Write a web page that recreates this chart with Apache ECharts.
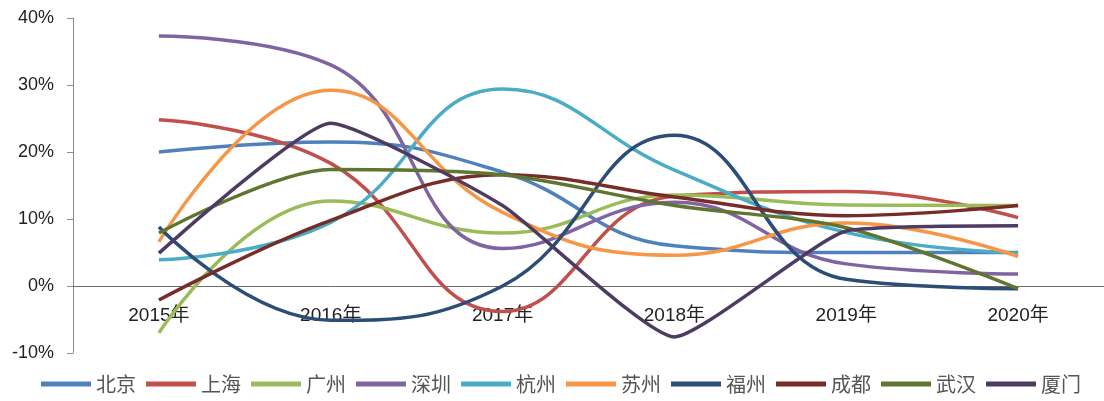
<!DOCTYPE html>
<html><head><meta charset="utf-8">
<script src="https://cdn.jsdelivr.net/npm/echarts@6/dist/echarts.min.js"></script>
<style>html,body{margin:0;padding:0;background:#fff}#c{width:1104px;height:401px}</style>
</head><body><div id="c"></div>
<script>
const categories = ['2015年','2016年','2017年','2018年','2019年','2020年'];
const cityNames = ['北京','上海','广州','深圳','杭州','苏州','福州','成都','武汉','厦门'];
const beijing  = [20.0, 21.5, 17.0, 6.0, 5.0, 5.0];
const shanghai = [24.8, 18.3, -3.8, 13.4, 14.1, 10.2];
const guangzhou= [-7.0, 12.7, 7.9, 13.6, 12.1, 12.0];
const shenzhen = [37.3, 33.0, 5.6, 12.5, 3.3, 1.8];
const hangzhou = [3.9, 9.5, 29.4, 17.3, 8.0, 4.9];
const suzhou   = [6.6, 29.2, 11.0, 4.6, 9.4, 4.4];
const fuzhou   = [8.8, -5.1, 0.0, 22.5, 1.0, -0.4];
const chengdu  = [-2.1, 9.8, 16.6, 13.3, 10.5, 12.0];
const wuhan    = [7.9, 17.4, 16.6, 12.0, 8.7, -0.4];
const xiamen   = [4.9, 24.3, 12.0, -7.6, 8.2, 9.0];
const yTicks = [-10, 0, 10, 20, 30, 40];
const seriesData = [beijing, shanghai, guangzhou, shenzhen, hangzhou, suzhou, fuzhou, chengdu, wuhan, xiamen];
const smoothness = [0.45, 0.45, 0.45, 0.45, 0.45, 0.45, 0.45, 0.4, 0.3, 0.15];
const colors = ['#4F81BD','#C0504D','#9BBB59','#8064A2','#4BACC6','#F79646','#2C4D75','#772C2A','#5F7530','#4D3B62'];
const FONT = 'Liberation Sans, Noto Sans CJK SC, sans-serif';
const chart = echarts.init(document.getElementById('c'));
chart.setOption({
  animation: false,
  color: colors,
  grid: {left: 73, right: -11, top: 18, bottom: 48, containLabel: false},
  xAxis: {
    type: 'category', data: categories, boundaryGap: true,
    axisLine: {onZero: true, lineStyle: {color: '#6b6b6b', width: 1}},
    axisTick: {show: false},
    axisLabel: {color: '#222', fontSize: 19, fontFamily: FONT, margin: -47},
    splitLine: {show: false}
  },
  yAxis: {
    type: 'value', min: yTicks[0], max: yTicks[yTicks.length-1], interval: 10,
    axisLine: {show: true, lineStyle: {color: '#8c8c8c', width: 1}},
    axisTick: {show: true, length: 6, lineStyle: {color: '#8c8c8c'}},
    axisLabel: {formatter: '{value}%', color: '#222', fontSize: 18, fontFamily: FONT, margin: 19},
    splitLine: {show: false}
  },
  legend: {
    left: 36, bottom: 2, itemWidth: 50, itemHeight: 5, itemGap: 10, icon: 'rect',
    textStyle: {fontSize: 20, color: '#555', fontFamily: 'Noto Sans CJK SC, sans-serif'},
    data: cityNames
  },
  series: seriesData.map((d, i) => ({
    name: cityNames[i], type: 'line', data: d, smooth: smoothness[i], symbol: 'none',
    lineStyle: {width: 3.5, color: colors[i]}, itemStyle: {color: colors[i]}
  }))
});
</script></body></html>
